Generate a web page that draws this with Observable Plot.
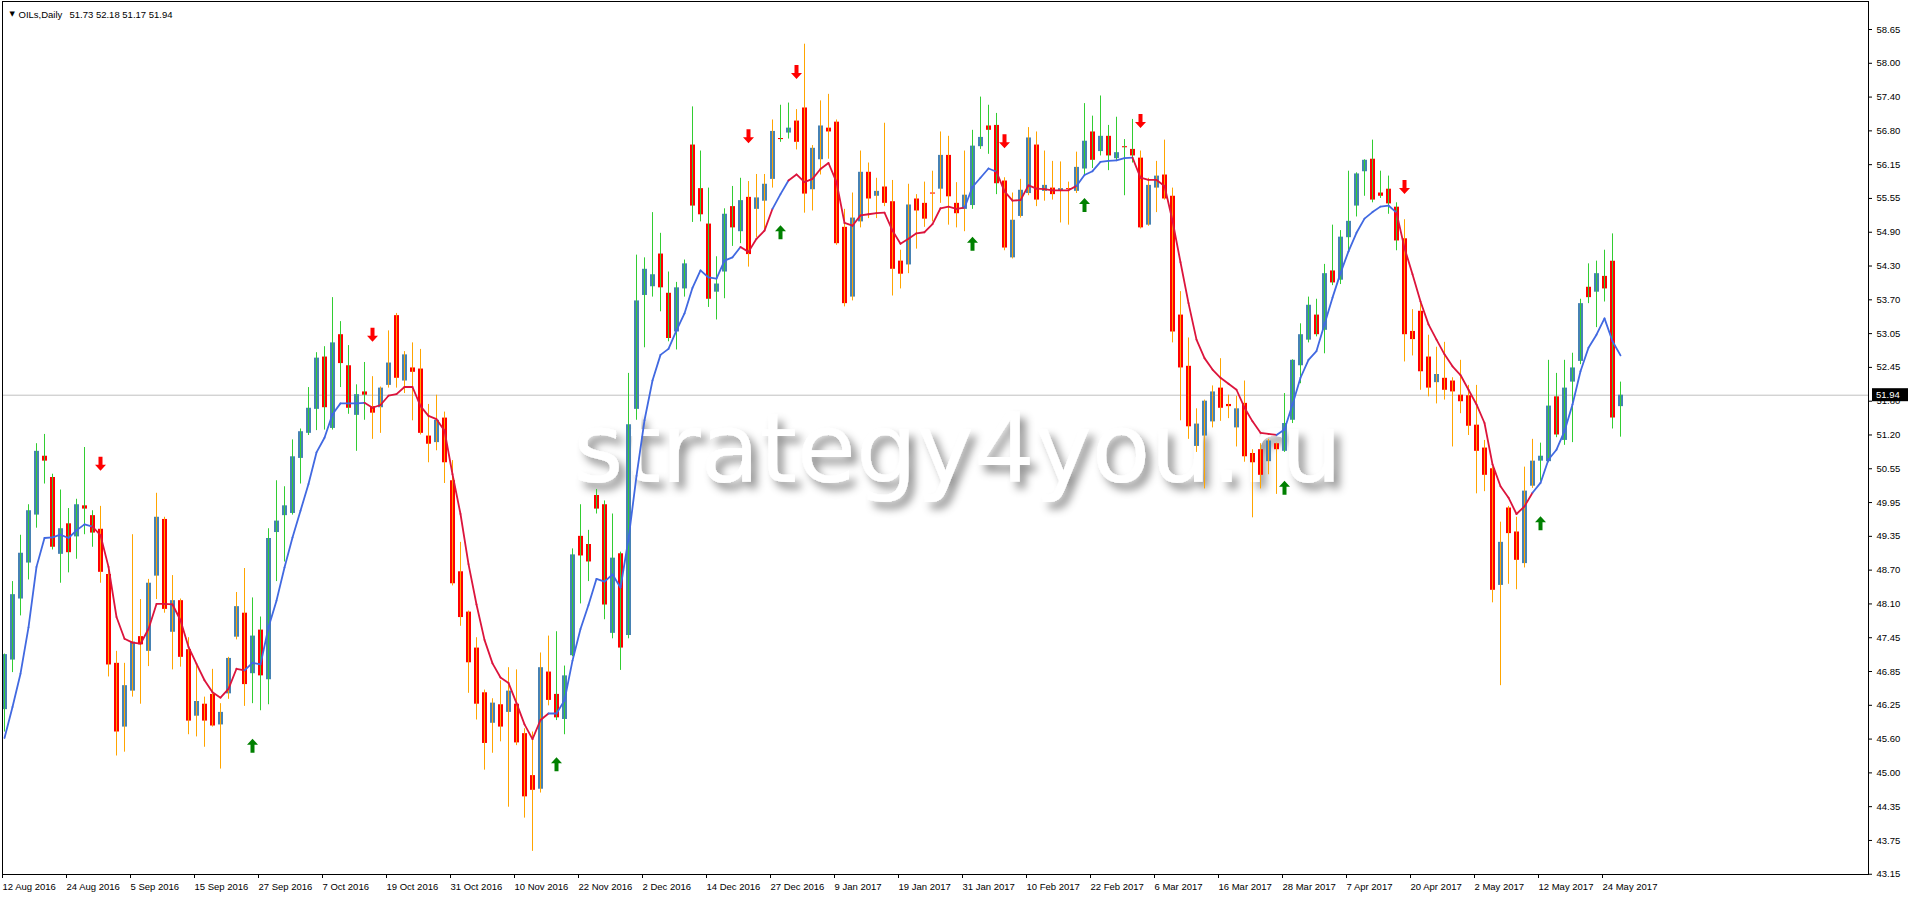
<!DOCTYPE html>
<html><head><meta charset="utf-8">
<script src="https://cdn.jsdelivr.net/npm/d3@7"></script>
<script src="https://cdn.jsdelivr.net/npm/@observablehq/plot@0.6"></script>
<style>
html,body{margin:0;padding:0;background:#fff;}
#chart{width:1912px;height:897px;overflow:hidden;}
</style></head><body><div id="chart"></div>
<script>
const symbolName = "OILs,Daily";
const watermark = "strategy4you.ru";

const open = [
46.17,47.08,48.20,48.86,49.74,50.82,50.43,49.02,49.58,49.34,
49.91,49.73,49.48,48.65,47.02,45.85,46.51,47.51,47.24,48.62,
49.66,47.59,48.17,47.27,46.05,46.27,46.45,45.89,46.46,47.50,
47.94,46.83,47.63,46.72,49.42,49.73,49.77,50.78,51.24,51.68,
52.64,51.33,53.05,52.48,51.57,52.00,51.73,51.71,52.12,53.40,
52.20,52.44,52.42,51.19,51.07,51.52,50.37,48.70,47.96,47.30,
46.48,45.92,46.26,46.12,46.27,45.73,44.96,44.71,46.86,46.45,
45.99,47.16,49.35,49.20,50.10,49.93,47.57,49.03,47.53,51.68,
53.77,53.93,54.53,53.81,53.10,53.89,56.53,55.73,55.08,53.83,
54.20,55.40,54.94,55.57,55.35,55.50,55.90,56.65,56.75,56.97,
57.21,55.71,56.26,56.84,56.95,55.02,53.74,55.12,56.03,55.59,
55.76,55.49,54.40,54.33,55.54,55.46,55.65,55.72,56.34,55.46,
55.35,55.42,56.50,56.88,56.89,55.87,54.46,55.22,55.64,56.53,
55.68,55.74,55.68,55.73,55.68,56.09,56.77,56.41,56.69,56.28,
56.50,56.45,56.29,55.06,55.74,55.98,55.59,53.41,52.47,51.00,
51.19,51.45,52.07,51.77,51.34,51.79,50.87,50.94,50.72,51.05,
50.91,51.48,52.48,52.95,53.41,53.13,54.22,54.05,54.83,55.41,
56.04,56.27,55.65,55.72,55.39,54.81,53.11,53.48,52.64,52.17,
52.25,52.20,51.94,51.93,51.39,50.97,50.59,48.45,49.87,49.43,
48.85,50.27,50.73,50.72,51.91,51.11,52.18,52.56,53.92,53.83,
54.12,54.40,51.73];

const high = [
47.19,48.52,49.37,49.93,51.05,51.22,50.49,50.20,49.86,50.03,
50.98,49.82,49.90,48.79,47.24,47.02,49.38,48.19,48.56,50.14,
49.70,48.63,48.20,47.49,47.01,46.40,46.91,46.28,47.13,48.32,
48.76,48.22,47.87,49.49,50.37,50.26,51.12,51.32,52.08,52.72,
52.83,53.73,53.29,52.85,52.13,52.54,52.28,52.09,53.12,53.44,
52.74,52.90,52.78,51.77,51.94,51.63,50.74,49.24,47.98,47.49,
46.53,46.37,46.70,46.94,46.90,45.82,45.76,47.21,47.52,47.60,
46.97,49.12,49.93,49.46,50.21,50.00,49.76,49.06,52.34,54.51,
54.46,55.29,54.91,54.20,54.01,54.42,57.23,56.42,55.74,54.48,
55.36,55.77,55.92,55.86,55.99,55.99,56.99,57.26,57.30,57.18,
58.38,56.52,57.34,57.46,56.99,55.35,55.65,56.42,56.20,55.92,
56.93,55.88,54.60,55.81,55.62,55.85,56.05,56.77,56.69,55.84,
56.42,56.80,57.41,57.26,57.11,55.93,55.65,55.90,56.85,56.77,
56.42,56.23,56.22,55.85,56.40,57.29,57.06,57.43,56.89,57.04,
56.63,57.00,56.42,55.92,56.23,56.62,55.74,53.84,52.99,51.69,
51.85,52.11,52.61,51.94,51.92,52.20,50.94,51.05,51.13,51.06,
51.97,52.59,53.25,53.74,53.70,54.34,55.06,54.96,56.05,56.02,
56.26,56.62,56.05,55.96,55.47,55.16,53.51,53.65,53.04,52.82,
52.91,52.26,52.58,52.12,52.12,51.11,50.62,49.61,49.90,49.70,
50.62,51.13,51.06,52.58,52.34,52.58,52.71,53.70,54.35,54.40,
54.60,54.90,52.18];

const low = [
45.76,46.85,47.89,48.55,49.50,50.31,49.10,48.49,48.68,48.93,
49.38,49.15,48.49,46.77,45.32,45.39,46.40,46.27,46.96,48.19,
47.94,46.90,46.95,45.71,45.67,45.48,45.85,45.08,46.36,47.45,
46.23,46.28,46.15,46.26,48.52,48.88,49.74,50.31,51.20,51.29,
51.30,51.30,52.08,51.59,50.91,51.48,51.13,51.24,52.07,52.07,
51.97,51.47,51.21,50.70,50.92,50.32,48.44,47.70,46.47,45.98,
45.06,45.37,45.58,44.38,45.51,44.18,43.57,44.64,46.24,45.97,
45.71,47.14,48.11,48.52,49.76,47.82,47.47,46.89,47.47,51.48,
52.81,53.74,53.47,52.92,52.77,53.74,55.11,55.12,53.55,53.32,
53.71,54.67,54.72,54.29,54.83,54.96,55.74,56.58,56.64,56.44,
55.28,55.32,55.98,56.27,54.69,53.56,53.67,55.01,55.18,55.18,
55.40,53.76,53.89,54.17,54.62,55.02,55.12,55.46,55.06,55.01,
54.94,55.35,56.45,56.36,55.62,54.59,54.44,55.19,55.60,55.40,
55.50,55.52,55.10,55.06,55.64,55.99,56.10,56.33,56.06,56.24,
55.60,56.20,54.99,55.04,55.29,55.52,52.90,51.47,51.13,50.89,
50.22,51.34,51.46,51.51,50.99,50.71,49.69,50.22,50.48,50.12,
50.89,51.42,52.15,52.90,53.01,52.70,53.95,53.97,54.54,55.21,
55.59,55.47,55.55,55.26,54.59,52.55,52.66,52.03,51.91,51.78,
51.85,50.99,51.60,51.20,50.13,50.17,48.13,46.61,48.47,48.37,
48.77,50.23,50.36,50.70,51.16,51.02,51.07,52.50,53.62,53.18,
53.65,51.32,51.17];

const close = [
47.18,48.28,49.04,49.82,50.91,50.73,49.15,49.49,49.05,49.93,
49.85,49.41,48.69,46.99,45.76,46.61,47.41,47.36,48.49,49.70,
48.01,48.17,47.13,45.96,46.32,45.96,45.87,46.12,47.11,48.06,
46.63,47.52,46.79,49.31,49.63,49.91,50.81,51.27,51.70,52.62,
51.71,52.90,52.52,51.70,51.95,51.94,51.61,52.07,52.53,52.25,
52.68,52.36,51.24,51.04,51.48,50.70,48.48,47.86,47.03,46.27,
45.55,46.29,45.85,46.51,45.56,44.57,44.69,46.94,46.34,46.02,
46.79,49.01,48.99,48.88,49.85,48.09,48.95,47.30,51.40,53.67,
54.25,54.15,53.91,52.98,53.91,54.35,55.41,55.25,53.70,53.98,
55.26,55.01,55.51,54.52,55.56,55.81,56.78,56.63,56.84,56.58,
55.63,56.47,56.88,56.77,54.72,53.62,55.19,56.03,55.54,55.68,
55.46,54.25,54.16,55.43,55.32,55.17,55.63,56.34,55.58,55.27,
55.61,56.51,56.67,56.80,55.82,54.64,55.15,55.70,56.66,55.52,
55.79,55.62,55.73,55.71,56.12,56.60,56.25,56.69,56.33,56.39,
56.48,56.33,55.01,55.79,55.96,55.54,53.10,52.44,51.36,51.41,
51.83,52.00,51.70,51.73,51.69,50.81,50.70,50.47,51.10,50.94,
51.42,52.58,53.05,53.59,53.05,54.17,54.00,54.84,55.13,56.00,
56.25,55.52,55.59,55.45,54.77,53.05,52.96,52.37,52.07,52.32,
52.03,52.00,51.82,51.37,50.91,50.47,48.36,49.24,49.40,48.91,
50.18,50.73,50.82,51.74,51.21,52.07,52.44,53.62,53.73,54.17,
53.89,51.52,51.94];

const maLine = [
45.65,46.22,46.83,47.68,48.79,49.32,49.33,49.38,49.32,49.46,
49.57,49.53,49.37,48.79,47.87,47.47,47.40,47.38,47.65,48.11,
48.11,48.10,47.81,47.32,47.01,46.71,46.49,46.39,46.55,46.92,
46.89,47.03,47.00,47.68,48.17,48.78,49.33,49.82,50.31,50.89,
51.16,51.59,51.79,51.79,51.79,51.80,51.71,51.76,51.93,51.96,
52.09,52.09,51.74,51.56,51.50,51.29,50.49,49.76,48.84,48.10,
47.45,47.02,46.76,46.66,46.29,45.90,45.63,45.98,46.10,46.10,
46.34,47.07,47.65,48.09,48.57,48.52,48.65,48.41,49.30,50.46,
51.48,52.21,52.68,52.79,53.13,53.44,53.91,54.23,54.10,54.08,
54.41,54.47,54.66,54.57,54.81,54.96,55.36,55.63,55.88,55.99,
55.85,55.91,56.09,56.20,55.85,55.10,55.05,55.24,55.26,55.28,
55.29,54.96,54.72,54.81,54.91,54.93,55.08,55.37,55.40,55.36,
55.38,55.76,55.93,56.10,56.04,55.68,55.51,55.52,55.79,55.73,
55.72,55.70,55.70,55.70,55.78,55.98,56.05,56.22,56.24,56.25,
56.29,56.30,55.93,55.89,55.89,55.78,55.14,54.38,53.63,52.96,
52.62,52.41,52.26,52.15,52.04,51.71,51.46,51.25,51.23,51.21,
51.31,51.77,52.26,52.59,52.75,53.24,53.73,54.18,54.58,54.92,
55.18,55.30,55.40,55.42,55.29,54.64,54.16,53.66,53.24,52.96,
52.69,52.47,52.31,52.04,51.77,51.43,50.67,50.27,50.06,49.76,
49.90,50.15,50.33,50.76,50.94,51.28,51.77,52.38,52.81,53.05,
53.35,52.93,52.67];

// signal arrows: bar index and price level
const upArrowBars   = [31, 69, 97, 121, 135, 160, 192];
const upArrowPrice  = [45.51, 45.17, 54.93, 54.72, 55.43, 50.24, 49.59];
const downArrowBars  = [12, 46, 93, 99, 125, 142, 175];
const downArrowPrice = [50.68, 53.05, 56.69, 57.87, 56.60, 56.97, 55.76];

const dateLabels = ["12 Aug 2016","24 Aug 2016","5 Sep 2016","15 Sep 2016","27 Sep 2016","7 Oct 2016",
"19 Oct 2016","31 Oct 2016","10 Nov 2016","22 Nov 2016","2 Dec 2016","14 Dec 2016","27 Dec 2016",
"9 Jan 2017","19 Jan 2017","31 Jan 2017","10 Feb 2017","22 Feb 2017","6 Mar 2017","16 Mar 2017",
"28 Mar 2017","7 Apr 2017","20 Apr 2017","2 May 2017","12 May 2017","24 May 2017"];
const dateBars = [0,8,16,24,32,40,48,56,64,72,80,88,96,104,112,120,128,136,144,152,160,168,176,184,192,200];

const yTickLabels = ["58.65","58.00","57.40","56.80","56.15","55.55","54.90","54.30","53.70","53.05",
"52.45","51.80","51.20","50.55","49.95","49.35","48.70","48.10","47.45","46.85","46.25","45.60",
"45.00","44.35","43.75","43.15"];

// ---- derived structures ----
const signals = [];
upArrowBars.forEach((b,k)=>signals.push({i:b, dir:"up", p:upArrowPrice[k]}));
downArrowBars.forEach((b,k)=>signals.push({i:b, dir:"down", p:downArrowPrice[k]}));
signals.sort((a,b)=>a.i-b.i);
const trend = [];
{ let state = "up", s = 0;
  for (let i = 0; i < open.length; i++) {
    while (s < signals.length && signals[s].i <= i) { state = signals[s].dir; s++; }
    trend.push(state);
  } }

const candles = open.map((o,i)=>({i, o, h:high[i], l:low[i], c:close[i], up: close[i] >= o, t: trend[i]}));
const maSegs = maLine.slice(1).map((v,k)=>({x1:k, y1:maLine[k], x2:k+1, y2:v, t:trend[k+1]}));
const ups = upArrowBars.map((b,k)=>({i:b, p:upArrowPrice[k]}));
const downs = downArrowBars.map((b,k)=>({i:b, p:downArrowPrice[k]}));

const yTop = +yTickLabels[0], yBot = +yTickLabels[yTickLabels.length-1];
const yStep = (yTop - yBot) / (yTickLabels.length - 1);
const yTickVals = yTickLabels.map((_,k)=> yTop - k*yStep);
const dateTickPos = dateBars.map(b => b - 0.5);

const arrowUp = { draw(ctx, size){ const k = Math.sqrt(size/Math.PI)/7;
  ctx.moveTo(0,-7*k); ctx.lineTo(5.5*k,-1*k); ctx.lineTo(2*k,-1*k); ctx.lineTo(2*k,7*k);
  ctx.lineTo(-2*k,7*k); ctx.lineTo(-2*k,-1*k); ctx.lineTo(-5.5*k,-1*k); ctx.closePath(); } };
const arrowDown = { draw(ctx, size){ const k = Math.sqrt(size/Math.PI)/7;
  ctx.moveTo(0,7*k); ctx.lineTo(5.5*k,1*k); ctx.lineTo(2*k,1*k); ctx.lineTo(2*k,-7*k);
  ctx.lineTo(-2*k,-7*k); ctx.lineTo(-2*k,1*k); ctx.lineTo(-5.5*k,1*k); ctx.closePath(); } };

const W = 1912, H = 897, mL = 2, mR = 44, mT = 1, mB = 23;
const pxPerUnit = 54.5;
const yDomTop = yTop + (29 - mT) / pxPerUnit;
const yDomBot = yTop - (H - mB - 29) / pxPerUnit;
const xDomEnd = (W - mR - 4) / 8;

const lastClose = close[close.length-1];
const fmt = v => v.toFixed(2);

const svg = Plot.plot({
  width: W, height: H,
  marginLeft: mL, marginRight: mR, marginTop: mT, marginBottom: mB,
  style: {fontFamily: "Liberation Sans", fontSize: "9.5px", background: "#fff", color: "#000"},
  x: {type: "linear", domain: [-0.25, xDomEnd], axis: null},
  y: {type: "linear", domain: [yDomBot, yDomTop], axis: null},
  color: {type: "identity"},
  marks: [
    Plot.text([watermark], {frameAnchor: "top-left", dx: 571, dy: 480, textAnchor: "start", lineAnchor: "bottom",
      fontSize: 96, fontFamily: "DejaVu Sans", fill: "#ffffff"}),
    Plot.ruleY([lastClose], {stroke: "#C0C0C0", strokeWidth: 1}),
    Plot.ruleX(candles, {x: "i", y1: "o", y2: "c", stroke: d => d.up ? "#4682B4" : "#FF0000", strokeWidth: 5}),
    Plot.ruleX(candles, {x: "i", y1: "l", y2: "h", stroke: d => d.t === "up" ? "#32CD32" : "#FFA500", strokeWidth: 1}),
    Plot.link(maSegs, {x1: "x1", y1: "y1", x2: "x2", y2: "y2", stroke: d => d.t === "up" ? "#4169E1" : "#DC143C",
      strokeWidth: 1.8, strokeLinecap: "round"}),
    Plot.dot(ups, {x: "i", y: "p", symbol: arrowUp, r: 7, fill: "#008000", stroke: "none"}),
    Plot.dot(downs, {x: "i", y: "p", symbol: arrowDown, r: 7, fill: "#FF0000", stroke: "none"}),
    Plot.frame({stroke: "#000"}),
    Plot.axisY({anchor: "right", ticks: yTickVals, tickSize: 3, tickPadding: 5, label: null,
      tickFormat: d => yTickLabels[Math.round((yTop - d) / yStep)]}),
    Plot.axisX({anchor: "bottom", ticks: dateTickPos, tickSize: 4, tickPadding: 5, label: null,
      textAnchor: "start", dx: 2, tickFormat: d => dateLabels[dateTickPos.indexOf(d)]}),
    Plot.text(["\u25BC"], {frameAnchor: "top-left", dx: 7, dy: 10, fontSize: 7, fontFamily: "DejaVu Sans", fill: "#000"}),
    Plot.text([symbolName], {frameAnchor: "top-left", dx: 16, dy: 10, textAnchor: "start", fill: "#000"}),
    Plot.text([[open, high, low, close].map(a => fmt(a[a.length-1])).join(" ")],
      {frameAnchor: "top-left", dx: 67, dy: 10, textAnchor: "start", fill: "#000"})
  ]
});
document.getElementById("chart").append(svg);

const sel = d3.select(svg);
const defs = sel.insert("defs", ":first-child");
const f = defs.append("filter").attr("id", "wmShadow").attr("x", "-5%").attr("y", "-30%").attr("width", "115%").attr("height", "180%");
f.append("feGaussianBlur").attr("in", "SourceAlpha").attr("stdDeviation", 4).attr("result", "b");
f.append("feOffset").attr("in", "b").attr("dx", 6).attr("dy", 7).attr("result", "o");
f.append("feFlood").attr("flood-color", "#000").attr("flood-opacity", 0.42).attr("result", "c");
f.append("feComposite").attr("in", "c").attr("in2", "o").attr("operator", "in").attr("result", "s");
const mg = f.append("feMerge"); mg.append("feMergeNode").attr("in", "s"); mg.append("feMergeNode").attr("in", "SourceGraphic");
sel.selectAll("text").filter(function(){ return this.textContent === watermark; }).attr("filter", "url(#wmShadow)");

// current price label box on the right axis
const yc = svg.scale("y").apply(lastClose);
const gx = W - mR + 4;
const g = sel.append("g");
g.append("rect").attr("x", gx).attr("y", yc - 6.5).attr("width", 36).attr("height", 13).attr("fill", "#000");
g.append("text").attr("x", gx + 4).attr("y", yc).attr("dy", "0.35em").attr("fill", "#fff")
  .attr("text-anchor", "start").attr("font-family", "Liberation Sans").attr("font-size", 9.5).text(fmt(lastClose));
</script>
</body></html>
